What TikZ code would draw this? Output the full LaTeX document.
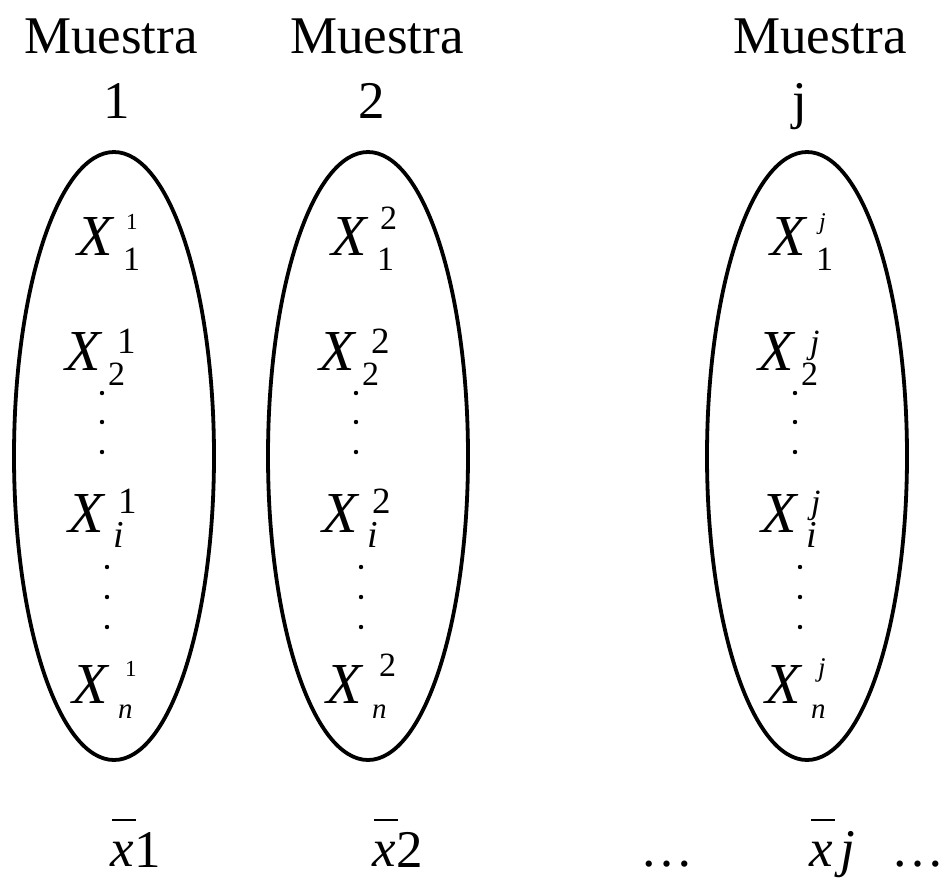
\documentclass[tikz,border=0pt]{standalone}
\usepackage{fontspec}
\setmainfont{Liberation Serif}
\begin{document}
\begin{tikzpicture}[x=1pt,y=-1pt,
  lbl/.style={inner sep=0pt, anchor=base, font=\fontsize{53}{60}\selectfont},
  bigx/.style={inner sep=0pt, anchor=base west, font=\fontsize{58}{60}\selectfont\itshape},
  supidx/.style={inner sep=0pt, anchor=base west, text depth=0pt},
  subidx/.style={inner sep=0pt, anchor=base west, text height=0.68em, text depth=0pt},
  sample/.style={line width=3.8pt},
  vdot/.style={fill=black},
  mean/.style={inner sep=0pt, anchor=base west, font=\fontsize{53}{60}\selectfont},
  digit/.style={mean, text depth=0pt},
  meanbar/.style={line width=1.3pt}]
\useasboundingbox (0,0) rectangle (945,879);
% headings
\node[lbl] (m1) at (111,53) {Muestra};
\node[lbl] (n1) at (117,118) {1};
\node[lbl] (m2) at (377,53) {Muestra};
\node[lbl] (n2) at (372,118) {2};
\node[lbl] (mj) at (820,53) {Muestra};
\node[lbl] (nj) at (800,118) {j};
% columns
\foreach \cx/\s/\sa/\sb/\sc/\sd/\it/\k in {114/1/23/37/37/23/{}/a, 368/2/34/37/37/34/{}/b, 807/j/24/34/34/27/\itshape/c}{
  \draw[sample] (\cx,456) ellipse [x radius=100pt, y radius=304pt];
  % row 1
  \node[bigx] (X1\k) at (\cx-37,255) {X};
  \node[supidx, font=\fontsize{\sa}{\sa}\selectfont\it] (S1\k) at (\cx+12,229) {\s};
  \node[subidx, font=\fontsize{34}{34}\selectfont] (B1\k) at (\cx+9,270) {1};
  % row 2
  \node[bigx] (X2\k) at (\cx-49,370) {X};
  \node[supidx, font=\fontsize{\sb}{\sb}\selectfont\it] (S2\k) at (\cx+3,353) {\s};
  \node[subidx, font=\fontsize{34}{34}\selectfont] (B2\k) at (\cx-6,385) {2};
  % upper dots
  \fill[vdot] (\cx-12,393) circle (2.2pt) (\cx-12,422) circle (2.2pt) (\cx-12,452) circle (2.2pt);
  % row i
  \node[bigx] (Xi\k) at (\cx-46,532) {X};
  \node[supidx, font=\fontsize{\sc}{\sc}\selectfont\it] (Si\k) at (\cx+4,513) {\s};
  \node[subidx, font=\fontsize{38}{38}\selectfont\itshape] (Bi\k) at (\cx-1,547) {i};
  % lower dots
  \fill[vdot] (\cx-7,567) circle (2.2pt) (\cx-7,597) circle (2.2pt) (\cx-7,627) circle (2.2pt);
  % row n
  \node[bigx] (Xn\k) at (\cx-42,703) {X};
  \node[supidx, font=\fontsize{\sd}{\sd}\selectfont\it] (Sn\k) at (\cx+11,676) {\s};
  \node[subidx, font=\fontsize{29}{29}\selectfont\itshape] (Bn\k) at (\cx+4,718) {n};
}
% means
\node[mean] (x1) at (110,866) {\itshape x};
\node[digit] (d1) at (x1.base east |- 0,867) {1};
\draw[meanbar] ([xshift=2pt]x1.base west |- 0,820) -- ++(24,0);
\node[mean] (x2) at (372,866) {\itshape x};
\node[digit] (d2) at (x2.base east |- 0,867) {2};
\draw[meanbar] ([xshift=2pt]x2.base west |- 0,820) -- ++(24,0);
\node[mean] (dots1) at (640,866) {…};
\node[mean] (xj) at (809,866) {\itshape x};
\node[mean] (jj) at ([xshift=7pt]xj.base east) {\itshape j};
\draw[meanbar] ([xshift=2pt]xj.base west |- 0,820) -- ++(24,0);
\node[mean] (dots2) at (891,866) {…};
\end{tikzpicture}
\end{document}
